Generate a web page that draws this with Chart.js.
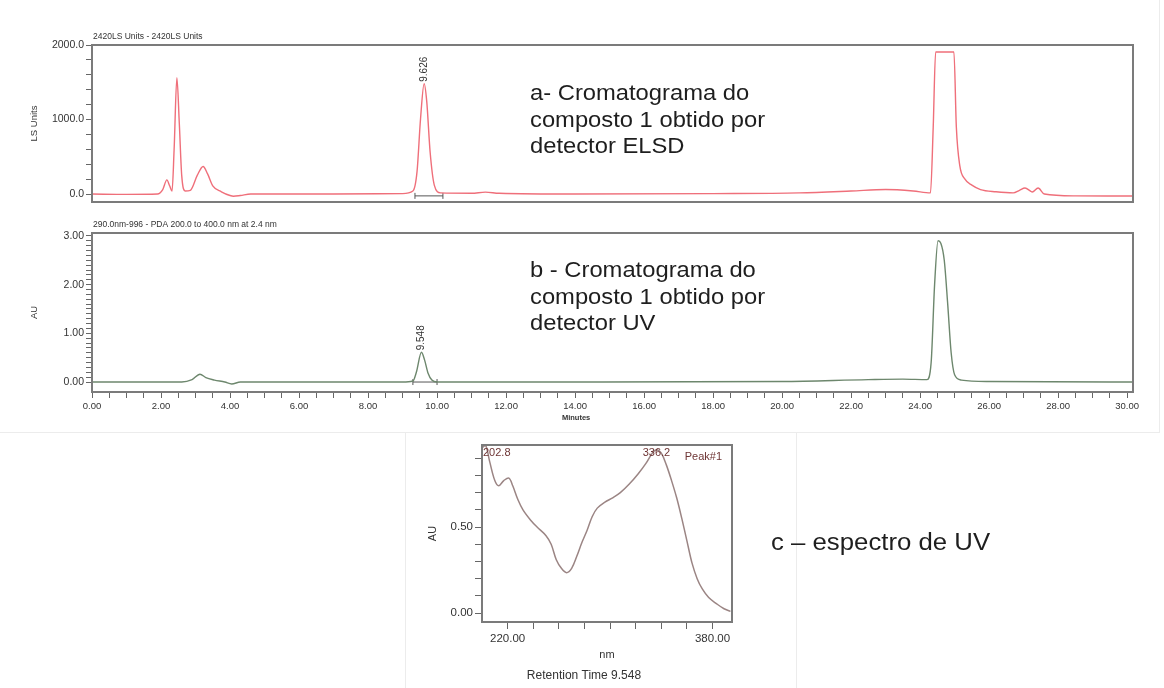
<!DOCTYPE html>
<html>
<head>
<meta charset="utf-8">
<title>Cromatogramas do composto 1</title>
<script src="https://cdn.jsdelivr.net/npm/chart.js@4.4.1/dist/chart.umd.min.js"></script>
<style>
  html, body { margin:0; padding:0; background:#fff; }
  #wrap { position:relative; width:1164px; height:688px; overflow:hidden;
          font-family:"Liberation Sans", Arial, sans-serif; }
  canvas.layer { position:absolute; left:0; top:0; }
  .note { position:absolute; font-size:22px; line-height:26.5px; color:#1e1e1e;
          white-space:nowrap; transform:scaleX(1.08); transform-origin:0 0; }
  .rule { position:absolute; background:#ececec; }
</style>
</head>
<body>
<div id="wrap">
  <div class="rule" style="left:0;top:432px;width:1160px;height:1px"></div>
  <div class="rule" style="left:1159px;top:0;width:1px;height:433px"></div>
  <div class="rule" style="left:405px;top:432px;width:1px;height:256px"></div>
  <div class="rule" style="left:796px;top:432px;width:1px;height:256px"></div>
  <canvas id="elsd" class="layer" width="1164" height="688"></canvas>
  <canvas id="uv" class="layer" width="1164" height="688"></canvas>
  <canvas id="spec" class="layer" width="1164" height="688"></canvas>
  <div class="note" style="left:530px;top:80px">a- Cromatograma do<br>composto 1 obtido por<br>detector ELSD</div>
  <div class="note" style="left:530px;top:257px">b - Cromatograma do<br>composto 1 obtido por<br>detector UV</div>
  <div class="note" style="left:771px;top:529px;font-size:23px;transform:scaleX(1.12)">c – espectro de UV</div>
</div>
<script>
// ---- ELSD trace (minutes / LS Units)
const elsdTime   = [0, 1.0, 1.9, 2.05, 2.17, 2.25, 2.32, 2.38, 2.46, 2.53, 2.6, 2.7, 2.85, 3.05, 3.22, 3.35, 3.5, 3.75, 4.0, 4.1, 4.3, 4.6, 5.5, 7.0, 9.0, 9.3, 9.42, 9.52, 9.626, 9.7, 9.8, 9.92, 10.1, 11.0, 11.4, 11.8, 14.0, 18.0, 20.5, 22.0, 23.0, 23.8, 24.3, 24.38, 24.45, 24.98, 25.05, 25.15, 25.3, 25.5, 25.75, 26.2, 26.7, 26.88, 27.04, 27.2, 27.25, 27.42, 27.6, 28.5, 30.17];
const elsdSignal = [0, -5, 0, 60, 190, 110, 40, 600, 1560, 950, 250, 40, 50, 250, 370, 270, 110, 30, -20, -30, -20, 0, 0, 0, 5, 40, 300, 1000, 1480, 1250, 560, 120, 15, 10, 25, 10, 0, 5, 15, 40, 60, 40, 15, 900, 1906, 1906, 900, 380, 200, 120, 60, 30, 15, 50, 80, 40, 27, 80, 0, -25, -27];
const elsdBaseT  = [9.36, 10.17];
const elsdBaseV  = [-25, -25];
const elsdPeaks  = [9.626];
const elsdYLabels = [0, 1000, 2000];

// ---- UV trace (minutes / AU)
const uvTime   = [0, 1.5, 2.6, 2.9, 3.13, 3.3, 3.55, 3.85, 4.05, 4.3, 6.0, 9.0, 9.3, 9.4, 9.548, 9.64, 9.74, 9.85, 10.0, 10.3, 14.0, 20.0, 22.5, 23.5, 24.2, 24.32, 24.42, 24.52, 24.6, 24.7, 24.8, 24.9, 25.0, 25.2, 26.0, 30.17];
const uvSignal = [0, 0, 0, 0.05, 0.16, 0.09, 0.04, 0.0, -0.04, 0, 0, 0, 0.02, 0.2, 0.61, 0.45, 0.18, 0.04, 0, 0, 0, 0.01, 0.05, 0.06, 0.05, 0.4, 2.0, 2.9, 2.85, 2.5, 1.6, 0.6, 0.15, 0.04, 0.01, 0];
const uvBaseT  = [9.3, 10.0];
const uvBaseV  = [0, 0];
const uvPeaks  = [9.548];
const uvYLabels = [0, 1, 2, 3];
const timeTicks = [0, 2, 4, 6, 8, 10, 12, 14, 16, 18, 20, 22, 24, 26, 28, 30];

// ---- UV spectrum of peak #1 (nm / AU)
const specNm = [200, 202.8, 206, 210, 213, 217, 221, 224, 228, 232, 238, 243, 250, 254, 258, 262, 266, 270, 274, 278, 282, 286, 290, 296, 302, 308, 315, 322, 328, 333, 336.2, 340, 344, 348, 352, 356, 360, 364, 368, 372, 377, 383, 389, 394];
const specAu = [0.96, 0.975, 0.88, 0.77, 0.74, 0.77, 0.785, 0.74, 0.66, 0.60, 0.54, 0.50, 0.45, 0.40, 0.31, 0.26, 0.235, 0.26, 0.33, 0.41, 0.48, 0.56, 0.61, 0.645, 0.67, 0.70, 0.75, 0.81, 0.87, 0.93, 0.95, 0.93, 0.86, 0.77, 0.67, 0.55, 0.42, 0.29, 0.20, 0.14, 0.09, 0.055, 0.025, 0.01];
const specPeaks = [202.8, 336.2];
const specXLabels = [220, 380];
const specYLabels = [0, 0.5];

const FONT = '"Liberation Sans", Arial, sans-serif';
Chart.defaults.font.family = FONT;
Chart.defaults.color = '#333';
Chart.defaults.animation = false;

const el = s => document.querySelector(s);
const pts = (xs, ys) => xs.map((x, i) => ({ x, y: ys[i] }));
const stepTicks = (a, b, st) => { const o = []; for (let v = a; v <= b + 1e-9; v += st) o.push({ value: +v.toFixed(4) }); return o; };

function text(ctx, str, x, y, font, color, align = 'left', rot = 0){
  ctx.save(); ctx.translate(x, y); if (rot) ctx.rotate(rot);
  ctx.font = font; ctx.fillStyle = color; ctx.textAlign = align; ctx.textBaseline = 'middle';
  ctx.fillText(str, 0, 0); ctx.restore();
}

// box round the plot area
const frame = {
  id: 'frame',
  afterDraw(chart){
    const { ctx, chartArea: a } = chart;
    ctx.save(); ctx.strokeStyle = '#7b7b7b'; ctx.lineWidth = 2;
    ctx.strokeRect(a.left, a.top, a.right - a.left, a.bottom - a.top);
    ctx.restore();
  }
};

// small caption above the plot
const header = str => ({
  id: 'header',
  afterDraw(chart){ const a = chart.chartArea; text(chart.ctx, str, a.left + 1, a.top - 8, '8.5px ' + FONT, '#333'); }
});

// retention time written vertically on top of each apex
const peakLabels = times => ({
  id: 'peakLabels',
  afterDatasetsDraw(chart){
    const xs = chart.scales.x, ys = chart.scales.y, d = chart.data.datasets[0].data;
    times.forEach(t => {
      const p = d.find(q => q.x === t);
      text(chart.ctx, t.toFixed(3), xs.getPixelForValue(t), ys.getPixelForValue(p.y) - 2, '10px ' + FONT, '#333', 'left', -Math.PI / 2);
    });
  }
});

const yAxis = (min, max, step, top, labels, fmt, title) => ({
  min, max,
  afterFit: s => { s.width = 67; },
  afterBuildTicks: s => { s.ticks = stepTicks(0, top, step); },
  ticks: { autoSkip: false, padding: 2, font: { size: 10.5 }, color: '#333',
           callback: v => labels.includes(v) ? v.toFixed(fmt) : '' },
  grid: { drawOnChartArea: false, tickLength: 6, tickColor: '#666' },
  border: { color: '#7b7b7b', width: 2 },
  title: { display: true, text: title, font: { size: 9.5 }, color: '#333' }
});

const baseLine = (xs, ys) => ({
  data: pts(xs, ys), borderColor: '#555', borderWidth: 1,
  pointRadius: 3, pointStyle: 'line', rotation: 90, pointBorderColor: '#555', pointBorderWidth: 1
});

const trace = (xs, ys, color) => ({
  data: pts(xs, ys), borderColor: color, borderWidth: 1.4, pointRadius: 0, cubicInterpolationMode: 'monotone'
});

new Chart(el('#elsd'), {
  type: 'line',
  data: { datasets: [ trace(elsdTime, elsdSignal, '#ef6f7a'), baseLine(elsdBaseT, elsdBaseV) ] },
  options: {
    responsive: false,
    layout: { padding: { left: 25, right: 31, top: 45, bottom: 486 } },
    plugins: { legend: { display: false }, tooltip: { enabled: false } },
    scales: {
      x: { type: 'linear', display: false, min: 0, max: 30.17 },
      y: yAxis(-107, 2000, 200, 2000, elsdYLabels, 1, 'LS Units')
    }
  },
  plugins: [frame, header('2420LS Units - 2420LS Units'), peakLabels(elsdPeaks)]
});

new Chart(el('#uv'), {
  type: 'line',
  data: { datasets: [ trace(uvTime, uvSignal, '#6d876d'), baseLine(uvBaseT, uvBaseV) ] },
  options: {
    responsive: false,
    layout: { padding: { left: 25, right: 31, top: 233, bottom: 266 } },
    plugins: { legend: { display: false }, tooltip: { enabled: false } },
    scales: {
      x: { type: 'linear', min: 0, max: 30.17,
           afterFit: s => { s.height = 30; },
           afterBuildTicks: s => { s.ticks = stepTicks(0, 30, 0.5); },
           ticks: { autoSkip: false, maxRotation: 0, padding: 3, font: { size: 9.5 }, color: '#333',
                    callback: v => timeTicks.includes(v) ? v.toFixed(2) : '' },
           grid: { drawOnChartArea: false, tickLength: 6, tickColor: '#666' },
           border: { color: '#7b7b7b', width: 2 } },
      y: yAxis(-0.205, 3.06, 0.1, 3, uvYLabels, 2, 'AU')
    }
  },
  plugins: [frame, header('290.0nm-996 - PDA 200.0 to 400.0 nm at 2.4 nm'), peakLabels(uvPeaks), {
    id: 'minutes',
    afterDraw(chart){
      const a = chart.chartArea;
      text(chart.ctx, 'Minutes', a.left + 0.465 * (a.right - a.left), a.bottom + 26, 'bold 7.5px ' + FONT, '#333', 'center');
    }
  }]
});

new Chart(el('#spec'), {
  type: 'line',
  data: { datasets: [
    { data: pts(specNm, specAu), borderColor: '#9b8584', borderWidth: 1.5, pointRadius: 0, tension: 0.35 }
  ]},
  options: {
    responsive: false,
    layout: { padding: { left: 422, right: 432, top: 445, bottom: 22 } },
    plugins: { legend: { display: false }, tooltip: { enabled: false } },
    scales: {
      x: { type: 'linear', min: 200, max: 395.2,
           afterFit: s => { s.height = 44; },
           afterBuildTicks: s => { s.ticks = stepTicks(220, 380, 20); },
           ticks: { autoSkip: false, maxRotation: 0, padding: 3, font: { size: 11.5 }, color: '#333',
                    callback: v => specXLabels.includes(v) ? v.toFixed(2) : '' },
           grid: { drawOnChartArea: false, tickLength: 7, tickColor: '#666' },
           border: { color: '#7b7b7b', width: 2 },
           title: { display: true, text: 'nm', font: { size: 11 }, color: '#333', padding: { top: 2, bottom: 4 } } },
      y: { min: -0.052, max: 0.977,
           afterFit: s => { s.width = 60; },
           afterBuildTicks: s => { s.ticks = stepTicks(0, 0.9, 0.1); },
           ticks: { autoSkip: false, padding: 2, font: { size: 11.5 }, color: '#333',
                    callback: v => specYLabels.includes(v) ? v.toFixed(2) : '' },
           grid: { drawOnChartArea: false, tickLength: 7, tickColor: '#666' },
           border: { color: '#7b7b7b', width: 2 },
           title: { display: true, text: 'AU', font: { size: 11 }, color: '#333' } }
    }
  },
  plugins: [frame, {
    id: 'specLabels',
    afterDraw(chart){
      const { ctx, chartArea: a } = chart, xs = chart.scales.x;
      const f = '11px ' + FONT, c = '#6e3535';
      ctx.save(); ctx.font = f;
      specPeaks.forEach(nm => {
        const s = nm.toFixed(1), w = ctx.measureText(s).width;
        const left = Math.max(a.left + 1, xs.getPixelForValue(nm) - w / 2);
        text(ctx, s, left, a.top + 8, f, c);
      });
      ctx.restore();
      text(ctx, 'Peak#1', a.right - 10, a.top + 12, f, c, 'right');
      text(ctx, 'Retention Time 9.548', 584, a.bottom + 54, '12px ' + FONT, '#333', 'center');
    }
  }]
});
</script>
</body>
</html>
